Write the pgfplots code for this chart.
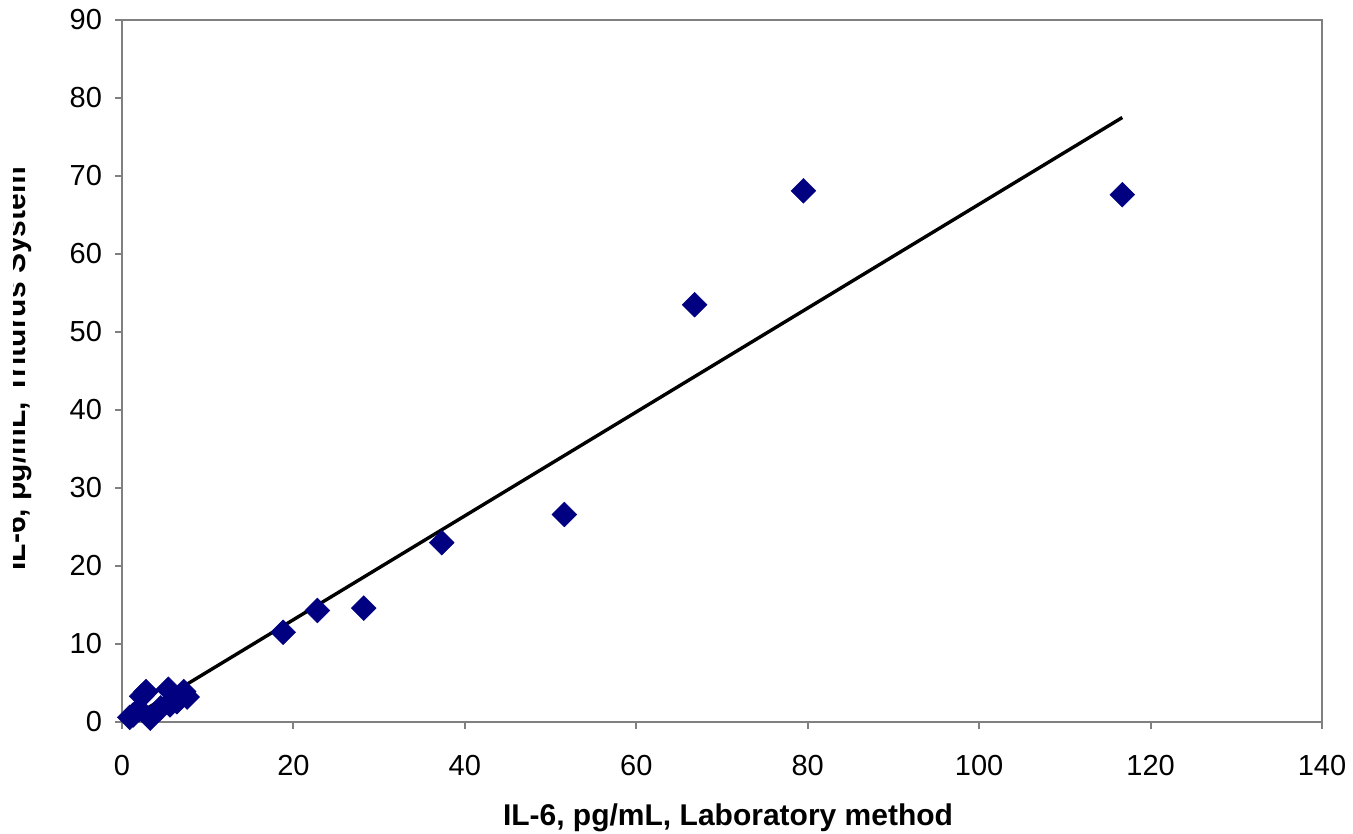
\documentclass[border=0pt]{standalone}
\usepackage{fontspec}
\setmainfont{Liberation Sans}
\usepackage{pgfplots}
\pgfplotsset{compat=1.18}
\definecolor{navy}{RGB}{0,0,128}
\definecolor{axgray}{RGB}{128,128,128}
\begin{document}
\begin{tikzpicture}
\begin{axis}[
  scale only axis, width=600pt, height=351pt,
  xmin=0, xmax=140, ymin=0, ymax=90,
  xtick={0,20,...,140}, ytick={0,10,...,90},
  tick align=outside, major tick length=3.5pt,
  xtick pos=left, ytick pos=left,
  axis line style={axgray, line width=1pt},
  tick style={axgray, line width=1pt},
  ticklabel style={font=\fontsize{14.5}{17}\selectfont},
  xticklabel style={yshift=-9.5pt},
  yticklabel style={xshift=-3pt},
  /pgf/number format/assume math mode=true,
  xlabel={IL-6, pg/mL, Laboratory method},
  ylabel={IL-6, pg/mL, Triturus System},
  label style={font=\bfseries\fontsize{15}{18}\selectfont},
  xlabel style={at={(axis description cs:0.505,-0.148)}, anchor=base},
  ylabel style={at={(axis description cs:-0.0808,0.503)}, anchor=base},
  clip=false,
]
\addplot[black, line width=1.7pt] coordinates {(0.9,0.4) (116.7,77.5)};
\addplot[only marks, mark=square*, mark size=4.4pt,
  mark options={rotate=45, fill=navy, draw=navy, line width=0.2pt}]
  coordinates {
  (0.9,0.6) (1.3,0.9) (2.0,1.6) (2.3,3.3) (2.8,3.9) (3.3,0.5)
  (4.5,1.8) (5.4,4.2) (5.6,2.2) (6.4,2.6) (7.2,3.9) (7.6,3.2)
  (18.8,11.5) (22.8,14.3) (28.2,14.6) (37.3,23.0) (51.6,26.6)
  (66.8,53.5) (79.5,68.1) (116.7,67.6)
  };
\end{axis}
\fill[white] (-61pt,-56pt) rectangle (-54.5pt,361pt);
\pgfresetboundingbox
\useasboundingbox (-61pt,-56pt) rectangle (615.5pt,361pt);
\end{tikzpicture}
\end{document}
